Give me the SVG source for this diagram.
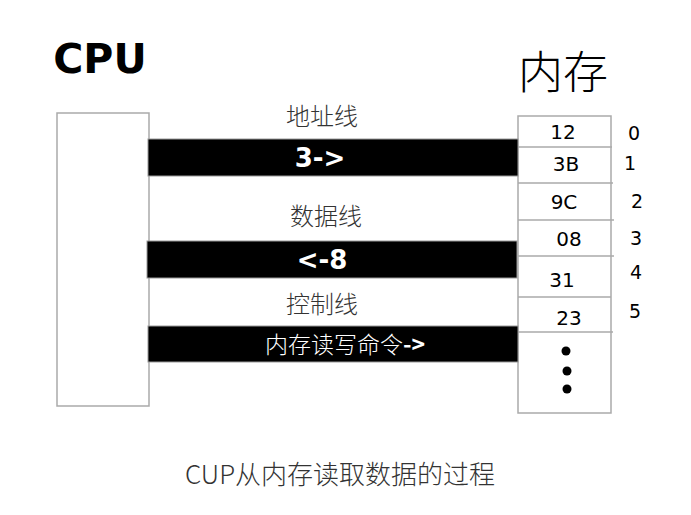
<svg xmlns="http://www.w3.org/2000/svg" width="691" height="515" viewBox="0 0 691 515">
<style>
.box{fill:#fff;stroke:#aaa;stroke-width:1.5}
.bar{fill:#000;stroke:#999;stroke-width:1}
.row{stroke:#aaa;stroke-width:1.5}
.hand{font-family:"DejaVu Sans","Liberation Sans",sans-serif;fill:#000}
.cjk{font-family:"Noto Sans CJK SC","Noto Sans",sans-serif;font-weight:300}
.lbl{font-size:24px;fill:#333;text-anchor:middle}
.bt{fill:#fff;text-anchor:middle}
.val{font-size:20px;text-anchor:middle}
.idx{font-size:19px;text-anchor:middle}
</style>
<rect width="691" height="515" fill="#fff"/>
<g id="cpu">
<text class="hand" x="100" y="73" font-size="41" font-weight="bold" text-anchor="middle">CPU</text>
<rect class="box" x="57" y="113" width="92" height="293"/>
</g>
<g id="memory">
<text class="cjk" x="563" y="89" font-size="45" text-anchor="middle" fill="#000">内存</text>
<rect class="box" x="518" y="116" width="93" height="297"/>
<line class="row" x1="518" y1="147" x2="612" y2="147"/>
<line class="row" x1="518" y1="183" x2="613" y2="183"/>
<line class="row" x1="518" y1="220" x2="614" y2="220"/>
<line class="row" x1="518" y1="256" x2="614" y2="256"/>
<line class="row" x1="518" y1="297" x2="611" y2="297"/>
<line class="row" x1="518" y1="332" x2="613" y2="332"/>
<text class="hand val" x="563" y="139">12</text>
<text class="hand val" x="566" y="171">3B</text>
<text class="hand val" x="564" y="209">9C</text>
<text class="hand val" x="569" y="246">08</text>
<text class="hand val" x="562" y="287">31</text>
<text class="hand val" x="569" y="325">23</text>
<circle cx="566" cy="351" r="4.5"/>
<circle cx="567" cy="371" r="4.5"/>
<circle cx="567" cy="389" r="4.5"/>
<text class="hand idx" x="634" y="140">0</text>
<text class="hand idx" x="630" y="170">1</text>
<text class="hand idx" x="637" y="208">2</text>
<text class="hand idx" x="636" y="245">3</text>
<text class="hand idx" x="636" y="279">4</text>
<text class="hand idx" x="635" y="318">5</text>
</g>
<g id="connectors">
<g id="address-bus">
<text class="cjk lbl" x="322" y="125">地址线</text>
<rect class="bar" x="148" y="139" width="370" height="37"/>
<text class="hand bt" x="320" y="167" font-size="26" font-weight="bold">3-&gt;</text>
</g>
<g id="data-bus">
<text class="cjk lbl" x="326" y="225">数据线</text>
<rect class="bar" x="147" y="241" width="370" height="37"/>
<text class="hand bt" x="322" y="269" font-size="26" font-weight="bold">&lt;-8</text>
</g>
<g id="control-bus">
<text class="cjk lbl" x="322" y="313">控制线</text>
<rect class="bar" x="148" y="326" width="370" height="36"/>
<text class="cjk bt" x="345" y="353" font-size="23" font-weight="400">内存读写命令<tspan font-weight="bold">-&gt;</tspan></text>
</g>
</g>
<text class="cjk" x="340" y="484" font-size="26" text-anchor="middle" fill="#333">CUP从内存读取数据的过程</text>
</svg>
